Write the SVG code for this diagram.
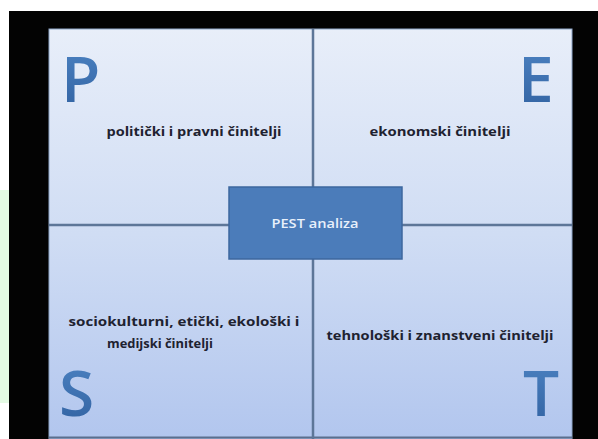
<svg xmlns="http://www.w3.org/2000/svg" width="598" height="439" viewBox="0 0 598 439">
  <defs>
    <linearGradient id="panelGrad" x1="0" y1="0" x2="0" y2="1">
      <stop offset="0" stop-color="#e8eef9"/>
      <stop offset="0.5" stop-color="#d0ddf4"/>
      <stop offset="1" stop-color="#b2c6ee"/>
    </linearGradient>
    <linearGradient id="letterGrad" x1="0" y1="0" x2="0" y2="1">
      <stop offset="0" stop-color="#4f86c6"/>
      <stop offset="1" stop-color="#2f5f9e"/>
    </linearGradient>
    <style>
      .lbl { font-family: "Open Sans", "Liberation Sans", sans-serif; font-weight: 700; font-size: 12.5px; fill: #1e2230; text-anchor: middle; }
      .big { font-family: "Open Sans", "Liberation Sans", sans-serif; font-weight: 600; font-size: 64px; fill: url(#letterGrad); }
      .div { stroke: #5d7698; stroke-width: 2.5; fill: none; }
      .center { fill: #4b7cba; stroke: #3c679e; stroke-width: 1.5; }
      .ctext { font-family: "Open Sans", "Liberation Sans", sans-serif; font-weight: 600; font-size: 12.5px; fill: #e8f0fb; text-anchor: middle; }
    </style>
  </defs>

  <rect x="0" y="0" width="598" height="439" fill="#ffffff"/>
  <rect x="0" y="190" width="9" height="213" fill="#e4fbe4"/>
  <rect x="9" y="11" width="589" height="428" fill="#030303"/>
  <rect x="49" y="29" width="523" height="410" fill="url(#panelGrad)" stroke="#8ea5c8" stroke-width="1"/>
  <line x1="49" y1="437.5" x2="572" y2="437.5" stroke="#5b6f8e" stroke-width="2"/>

  <g id="connectors">
    <line class="div" x1="313" y1="29" x2="313" y2="439"/>
    <line class="div" x1="49" y1="225" x2="572" y2="225"/>
  </g>

  <g id="node-P">
    <text class="big" x="61" y="102">P</text>
    <text class="lbl" x="194" y="136" textLength="175" lengthAdjust="spacingAndGlyphs">politički i pravni činitelji</text>
  </g>

  <g id="node-E">
    <text class="big" x="518" y="102">E</text>
    <text class="lbl" x="440" y="136" textLength="141" lengthAdjust="spacingAndGlyphs">ekonomski činitelji</text>
  </g>

  <g id="node-S">
    <text class="big" x="59" y="416">S</text>
    <text class="lbl" x="184" y="326" textLength="231" lengthAdjust="spacingAndGlyphs">sociokulturni, etički, ekološki i</text>
    <text class="lbl" x="160" y="348" textLength="106" lengthAdjust="spacingAndGlyphs">medijski činitelji</text>
  </g>

  <g id="node-T">
    <text class="big" x="523" y="416">T</text>
    <text class="lbl" x="440" y="340" textLength="227" lengthAdjust="spacingAndGlyphs">tehnološki i znanstveni činitelji</text>
  </g>

  <g id="node-center">
    <rect class="center" x="229" y="187" width="173" height="72"/>
    <text class="ctext" x="315" y="228" textLength="87" lengthAdjust="spacingAndGlyphs">PEST analiza</text>
  </g>
</svg>
